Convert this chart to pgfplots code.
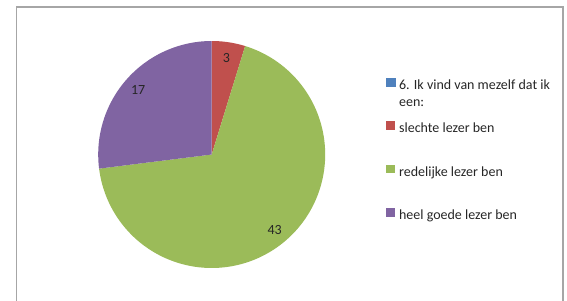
\documentclass[border=0pt]{standalone}
\usepackage{pgfplots}
\usepackage{pgfplotstable}
\pgfplotsset{compat=1.18}
\usepackage{fontspec}
\setmainfont{Carlito}
\definecolor{cA}{HTML}{4F81BD}
\definecolor{cB}{HTML}{C0504D}
\definecolor{cC}{HTML}{9BBB59}
\definecolor{cD}{HTML}{8064A2}
\pgfplotstableread{
idx value
0 0
1 3
2 43
3 17
}\piedata
\begin{document}%
\begin{tikzpicture}
\pgfplotstablegetelem{0}{value}\of\piedata\let\vA\pgfplotsretval
\pgfplotstablegetelem{1}{value}\of\piedata\let\vB\pgfplotsretval
\pgfplotstablegetelem{2}{value}\of\piedata\let\vC\pgfplotsretval
\pgfplotstablegetelem{3}{value}\of\piedata\let\vD\pgfplotsretval
\pgfmathsetmacro\tot{\vA+\vB+\vC+\vD}
\pgfmathsetmacro\eA{\vA/\tot*360}
\pgfmathsetmacro\eB{(\vA+\vB)/\tot*360}
\pgfmathsetmacro\eC{(\vA+\vB+\vC)/\tot*360}
\pgfmathsetmacro\eD{360}
\pgfmathsetmacro\mB{(\eA+\eB)/2}
\pgfmathsetmacro\mC{(\eB+\eC)/2}
\pgfmathsetmacro\mD{(\eC+\eD)/2}
\def\cx{211.7}\def\cy{154.5}\def\R{113.5}\def\L{98}
\begin{axis}[
  scale only axis, width=567pt, height=300pt,
  xmin=0, xmax=567, ymin=0, ymax=300, y dir=reverse,
  hide axis,
  legend cell align=left,
  legend style={at={(axis cs:386,77.5)}, anchor=north west, draw=none, fill=none,
    inner sep=0pt, row sep=29pt,
    font=\fontsize{14}{17}\selectfont,
    nodes={text height=10pt, text depth=3pt, inner sep=0pt, text=black!85}},
  legend image code/.code={\fill[#1] (0pt,-0.5pt) rectangle (9pt,8pt); \path (12.5pt,0pt);},
]
\draw[black!35, line width=1.3pt] (16.5,301) -- (16.5,7) -- (563,7) -- (563,301);
\addlegendimage{cA}
\addlegendentry{\parbox[t]{6cm}{\raggedright 6. Ik vind van mezelf dat ik\\een:}}
\addplot[draw=none, fill=cB, domain=\eA:\eB, samples=40, variable=\t]
  ({\cx+\R*sin(\t)}, {\cy-\R*cos(\t)}) -- (\cx,\cy) -- cycle;
\addlegendentry{slechte lezer ben}
\addplot[draw=none, fill=cC, domain=\eB:\eC, samples=120, variable=\t]
  ({\cx+\R*sin(\t)}, {\cy-\R*cos(\t)}) -- (\cx,\cy) -- cycle;
\addlegendentry{redelijke lezer ben}
\addplot[draw=none, fill=cD, domain=\eC:\eD, samples=60, variable=\t]
  ({\cx+\R*sin(\t)}, {\cy-\R*cos(\t)}) -- (\cx,\cy) -- cycle;
\addlegendentry{heel goede lezer ben}
\begin{scope}[every node/.style={font=\fontsize{14}{16}\selectfont, text=black!85}]
\node at (axis cs:{\cx+\L*sin(\mB)},{\cy-\L*cos(\mB)}) {\vB};
\node at (axis cs:{\cx+\L*sin(\mC)},{\cy-\L*cos(\mC)}) {\vC};
\node at (axis cs:{\cx+\L*sin(\mD)},{\cy-\L*cos(\mD)}) {\vD};
\end{scope}
\end{axis}
\pgfresetboundingbox
\path[use as bounding box] (current axis.south west) rectangle (current axis.north east);
\end{tikzpicture}%
\end{document}
